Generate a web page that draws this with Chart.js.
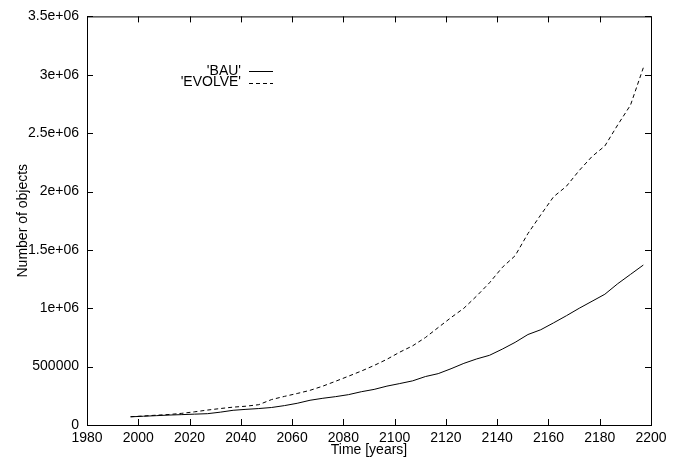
<!DOCTYPE html>
<html>
<head>
<meta charset="utf-8">
<title>Number of objects</title>
<script src="https://cdn.jsdelivr.net/npm/chart.js@4/dist/chart.umd.min.js"></script>
<style>
  html, body { margin: 0; padding: 0; background: #fff; }
  #wrap { width: 688px; height: 465px; }
</style>
</head>
<body>
<div id="wrap"><canvas id="objChart" width="688" height="465"></canvas></div>
<script>
// Data (every 5 years)
const years = [1997, 2002, 2007, 2012, 2017, 2022, 2027, 2032, 2037, 2042,
               2047, 2052, 2057, 2062, 2067, 2072, 2077, 2082, 2087, 2092,
               2097, 2102, 2107, 2112, 2117, 2122, 2127, 2132, 2137, 2142,
               2147, 2152, 2157, 2162, 2167, 2172, 2177, 2182, 2187, 2192, 2197];

const bauValues = [70000, 75000, 80000, 85000, 89000, 93000, 97000, 110000, 126000, 134000,
                   141000, 150000, 166000, 186000, 212000, 229000, 243000, 260000, 285000, 305000,
                   333000, 355000, 378000, 415000, 440000, 482000, 528000, 566000, 597000, 650000,
                   708000, 775000, 816000, 875000, 936000, 1000000, 1060000, 1120000, 1210000, 1290000, 1370000];

const evolveValues = [71000, 77000, 84000, 90000, 100000, 113000, 128000, 141000, 153000, 161000,
                      174000, 218000, 245000, 270000, 297000, 333000, 375000, 418000, 462000, 510000,
                      563000, 624000, 678000, 749000, 835000, 920000, 1000000, 1105000, 1218000, 1350000,
                      1450000, 1640000, 1800000, 1955000, 2045000, 2180000, 2300000, 2390000, 2570000, 2740000, 3060000];

const seriesNames = ["'BAU'", "'EVOLVE'"];
const yTickLabels = ['0', '500000', '1e+06', '1.5e+06', '2e+06', '2.5e+06', '3e+06', '3.5e+06'];

Chart.defaults.font.family = "'Liberation Sans', Arial, Helvetica, sans-serif";
Chart.defaults.font.size = 14;
Chart.defaults.color = '#000';

function toPoints(vals) {
    return years.map((yr, i) => ({ x: yr, y: vals[i] }));
}

// gnuplot style frame: border box with inward ticks on all four sides
const framePlugin = {
    id: 'frame',
    afterDraw(chart) {
        const ctx = chart.ctx;
        const area = chart.chartArea;
        const xs = chart.scales.x;
        const ys = chart.scales.y;
        const len = 6;
        ctx.save();
        ctx.strokeStyle = '#000';
        ctx.lineWidth = 1;
        ctx.strokeRect(area.left + 0.5, area.top + 0.5, area.right - area.left, area.bottom - area.top);
        ctx.beginPath();
        xs.ticks.forEach(t => {
            const px = Math.round(xs.getPixelForValue(t.value)) + 0.5;
            ctx.moveTo(px, area.bottom);
            ctx.lineTo(px, area.bottom - len);
            ctx.moveTo(px, area.top);
            ctx.lineTo(px, area.top + len);
        });
        ys.ticks.forEach(t => {
            const py = Math.round(ys.getPixelForValue(t.value)) + 0.5;
            ctx.moveTo(area.left, py);
            ctx.lineTo(area.left + len, py);
            ctx.moveTo(area.right, py);
            ctx.lineTo(area.right - len, py);
        });
        ctx.stroke();
        ctx.restore();
    }
};

// legend: right aligned labels with a line sample after them
const keyPlugin = {
    id: 'key',
    afterDraw(chart) {
        const ctx = chart.ctx;
        ctx.save();
        ctx.font = "14px 'Liberation Sans', Arial, sans-serif";
        ctx.textAlign = 'right';
        ctx.textBaseline = 'middle';
        chart.data.datasets.forEach((ds, i) => {
            const y = 71 + i * 11.5;
            ctx.fillStyle = '#000';
            ctx.fillText(ds.label, 241, y);
            ctx.beginPath();
            ctx.setLineDash(ds.borderDash || []);
            ctx.strokeStyle = ds.borderColor;
            ctx.lineWidth = 1;
            ctx.moveTo(249, Math.round(y) + 0.5);
            ctx.lineTo(273, Math.round(y) + 0.5);
            ctx.stroke();
        });
        ctx.restore();
    }
};

const ctx = document.getElementById('objChart').getContext('2d');
new Chart(ctx, {
    type: 'line',
    data: {
        datasets: [{
            label: seriesNames[0],
            data: toPoints(bauValues),
            borderColor: '#000',
            borderWidth: 1,
            pointRadius: 0,
            tension: 0,
            fill: false
        }, {
            label: seriesNames[1],
            data: toPoints(evolveValues),
            borderColor: '#000',
            borderWidth: 1,
            borderDash: [4, 3],
            pointRadius: 0,
            tension: 0,
            fill: false
        }]
    },
    options: {
        responsive: false,
        animation: false,
        devicePixelRatio: 1,
        layout: {
            padding: { left: 0, top: 12, right: 37, bottom: 0 }
        },
        plugins: {
            legend: { display: false },
            tooltip: { enabled: false }
        },
        scales: {
            x: {
                type: 'linear',
                min: 1980,
                max: 2200,
                grid: { display: false, drawTicks: false },
                border: { display: false },
                ticks: {
                    stepSize: 20,
                    padding: 5,
                    maxRotation: 0,
                    color: '#000',
                    callback: v => String(v)
                },
                title: {
                    display: true,
                    text: 'Time [years]',
                    color: '#000',
                    padding: { top: 0, bottom: 6 }
                },
                afterFit: s => { s.height = 40; }
            },
            y: {
                min: 0,
                max: 3500000,
                grid: { display: false, drawTicks: false },
                border: { display: false },
                ticks: {
                    stepSize: 500000,
                    padding: 8,
                    color: '#000',
                    callback: (v, i) => yTickLabels[i]
                },
                title: {
                    display: true,
                    text: 'Number of objects',
                    color: '#000',
                    padding: { top: 15, bottom: 0 }
                },
                afterFit: s => { s.width = 87; }
            }
        }
    },
    plugins: [framePlugin, keyPlugin]
});
</script>
</body>
</html>
